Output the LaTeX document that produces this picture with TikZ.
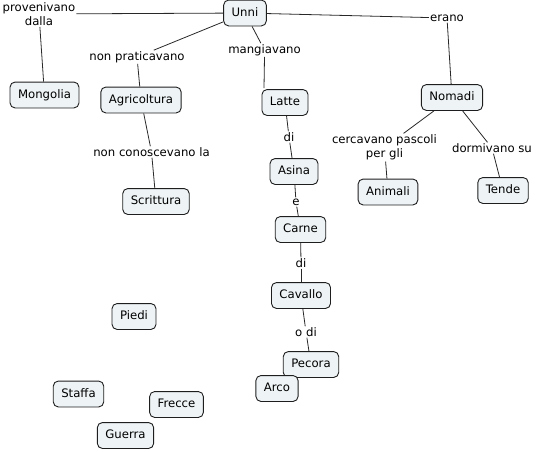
\documentclass[tikz,border=0pt]{standalone}
\usepackage{fontspec}
\setmainfont{DejaVu Sans}
\definecolor{boxfill}{RGB}{238,243,245}
\definecolor{boxline}{RGB}{30,30,30}
\definecolor{linkcol}{RGB}{40,40,40}
\begin{document}
\begin{tikzpicture}[x=1pt,y=-1pt,
  font=\fontsize{11.7}{14.5}\selectfont,
  concept/.style={draw=boxline, fill=boxfill, line width=0.9pt, rounded corners=5pt,
    inner xsep=8pt, inner ysep=7.2pt, text height=9pt, text depth=2.5pt},
  linklabel/.style={inner sep=1pt, align=center},
  link/.style={draw=linkcol, line width=0.8pt}]
\useasboundingbox (0,0) rectangle (536,451);
% concepts
\node[concept] (unni) at (245,13) {Unni};
\node[concept] (mongolia) at (44.5,95) {Mongolia};
\node[concept] (agri) at (141,100) {Agricoltura};
\node[concept] (latte) at (285,102.5) {Latte};
\node[concept] (nomadi) at (452,97.5) {Nomadi};
\node[concept] (asina) at (294,171.5) {Asina};
\node[concept] (animali) at (388,192) {Animali};
\node[concept] (tende) at (503,190.5) {Tende};
\node[concept] (scrittura) at (156,201.5) {Scrittura};
\node[concept] (carne) at (300.5,229.5) {Carne};
\node[concept] (cavallo) at (301,295.5) {Cavallo};
\node[concept] (piedi) at (134,316.5) {Piedi};
\node[concept] (pecora) at (311,364.5) {Pecora};
\node[concept] (arco) at (277,388.5) {Arco};
\node[concept] (staffa) at (78.5,394) {Staffa};
\node[concept] (frecce) at (176.5,404.5) {Frecce};
\node[concept] (guerra) at (125.5,435.5) {Guerra};
% linking phrases
\node[linklabel] (prov) at (39,14) {provenivano\\dalla};
\node[linklabel] (nonprat) at (137,57) {non praticavano};
\node[linklabel] (mang) at (264.5,50) {mangiavano};
\node[linklabel] (erano) at (447,18) {erano};
\node[linklabel] (noncon) at (151.5,152) {non conoscevano la};
\node[linklabel] (di1) at (289,137) {di};
\node[linklabel] (e) at (296,202) {e};
\node[linklabel] (di2) at (301,263) {di};
\node[linklabel] (odi) at (306,332) {o di};
\node[linklabel] (cerc) at (384.5,147.5) {cercavano pascoli\\per gli};
\node[linklabel] (dorm) at (492,148) {dormivano su};
% connectors
\draw[link] (unni) -- (prov);
\draw[link] (prov) -- (mongolia);
\draw[link] (unni) -- (nonprat);
\draw[link] (nonprat) -- (agri);
\draw[link] (unni) -- (mang);
\draw[link] (mang.south) -- ([xshift=-21pt,yshift=1pt]latte.north);
\draw[link] (unni) -- (erano);
\draw[link] (erano) -- (nomadi);
\draw[link] (latte) -- (di1);
\draw[link] (di1) -- (asina);
\draw[link] (asina) -- (e);
\draw[link] (e) -- (carne);
\draw[link] (carne) -- (di2);
\draw[link] (di2) -- (cavallo);
\draw[link] (cavallo) -- (odi);
\draw[link] (odi) -- (pecora);
\draw[link] (agri) -- (noncon);
\draw[link] (noncon) -- (scrittura);
\draw[link] (nomadi) -- (cerc);
\draw[link] (cerc) -- (animali);
\draw[link] (nomadi) -- (dorm);
\draw[link] (dorm) -- (tende);
\end{tikzpicture}
\end{document}
